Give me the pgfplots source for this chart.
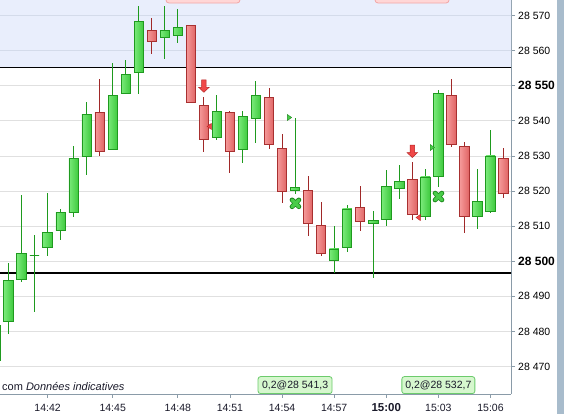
\documentclass[border=0pt]{standalone}
\usepackage{fontspec}
\setmainfont{Liberation Sans}
\usepackage{pgfplots}
\pgfplotsset{compat=1.18}

\definecolor{gfillL}{HTML}{7AEA7A}
\definecolor{gfillR}{HTML}{3ECA3E}
\definecolor{gborder}{HTML}{1F9A1F}
\definecolor{gwick}{HTML}{1E9A1E}
\definecolor{rfillL}{HTML}{F59A9A}
\definecolor{rfillR}{HTML}{E06464}
\definecolor{rborder}{HTML}{A83030}
\definecolor{rwick}{HTML}{A02828}
\definecolor{bluebg}{HTML}{E9EEFC}
\definecolor{bluegrid}{HTML}{D4DBEA}
\definecolor{gridgray}{HTML}{E0E0E0}
\definecolor{axisgray}{HTML}{8A9BA8}
\definecolor{rightbar}{HTML}{A8BCCC}
\definecolor{labeltext}{HTML}{1A1A2A}
\definecolor{pinkf}{HTML}{FFD6D6}
\definecolor{pinkb}{HTML}{F2A6A6}
\definecolor{boxf}{HTML}{D6F7CE}
\definecolor{boxb}{HTML}{6CCB6C}
\definecolor{arrowf}{HTML}{F04848}
\definecolor{arrowb}{HTML}{B82424}
\definecolor{xdark}{HTML}{1E8A1E}
\definecolor{xlight}{HTML}{48CC48}

\newcommand\tf{\fontsize{10.5bp}{12bp}\selectfont}
\newcommand\tfb{\fontsize{12bp}{12bp}\selectfont\bfseries}

\pgfdeclareplotmark{darrow}{%
  \pgfpathmoveto{\pgfqpoint{-2.3bp}{6.1bp}}%
  \pgfpathlineto{\pgfqpoint{2.3bp}{6.1bp}}%
  \pgfpathlineto{\pgfqpoint{2.3bp}{-1.2bp}}%
  \pgfpathlineto{\pgfqpoint{5.3bp}{-1.2bp}}%
  \pgfpathlineto{\pgfqpoint{0bp}{-6.2bp}}%
  \pgfpathlineto{\pgfqpoint{-5.3bp}{-1.2bp}}%
  \pgfpathlineto{\pgfqpoint{-2.3bp}{-1.2bp}}%
  \pgfpathclose\pgfusepathqfillstroke}
\pgfdeclareplotmark{ltri}{%
  \pgfpathmoveto{\pgfqpoint{-2.3bp}{0bp}}%
  \pgfpathlineto{\pgfqpoint{2bp}{3bp}}%
  \pgfpathlineto{\pgfqpoint{2bp}{-3bp}}%
  \pgfpathclose\pgfusepathqfillstroke}
\pgfdeclareplotmark{rtri}{%
  \pgfpathmoveto{\pgfqpoint{2.3bp}{0bp}}%
  \pgfpathlineto{\pgfqpoint{-2bp}{3bp}}%
  \pgfpathlineto{\pgfqpoint{-2bp}{-3bp}}%
  \pgfpathclose\pgfusepathqfillstroke}
\pgfdeclareplotmark{bigx}{%
  \pgfsetroundcap
  \pgfsetlinewidth{4.8bp}\pgfsetstrokecolor{xdark}%
  \pgfpathmoveto{\pgfqpoint{-3.4bp}{-3.4bp}}\pgfpathlineto{\pgfqpoint{3.4bp}{3.4bp}}%
  \pgfpathmoveto{\pgfqpoint{-3.4bp}{3.4bp}}\pgfpathlineto{\pgfqpoint{3.4bp}{-3.4bp}}%
  \pgfusepathqstroke
  \pgfsetlinewidth{3.2bp}\pgfsetstrokecolor{xlight}%
  \pgfpathmoveto{\pgfqpoint{-3.4bp}{-3.4bp}}\pgfpathlineto{\pgfqpoint{3.4bp}{3.4bp}}%
  \pgfpathmoveto{\pgfqpoint{-3.4bp}{3.4bp}}\pgfpathlineto{\pgfqpoint{3.4bp}{-3.4bp}}%
  \pgfusepathqstroke}

\pgfplotsset{
  gbody/.style={draw=gborder, line width=0.8bp, fill=gfillR, left color=gfillL, right color=gfillR},
  rbody/.style={draw=rborder, line width=0.8bp, fill=rfillR, left color=rfillL, right color=rfillR},
  gwk/.style={draw=gwick, line width=1bp, mark=none},
  rwk/.style={draw=rwick, line width=1bp, mark=none},
}
% \G{index}{open}{high}{low}{close}
\newcommand\candle[6]{%
  \addplot[#6wk] coordinates {(#1,#4) (#1,#3)};%
  \pgfmathsetmacro\xl{#1-0.36}\pgfmathsetmacro\xr{#1+0.36}%
  \edef\tmp{\noexpand\addplot[#6body] coordinates {(\xl,#2) (\xr,#2) (\xr,#5) (\xl,#5)} -- cycle;}\tmp}
\newcommand\G[5]{\candle{#1}{#2}{#3}{#4}{#5}{g}}
\newcommand\R[5]{\candle{#1}{#2}{#3}{#4}{#5}{r}}

\begin{document}
\begin{tikzpicture}
\useasboundingbox (0,0) rectangle (564bp,414bp);
\fill[white] (0,0) rectangle (564bp,414bp);
\fill[rightbar] (557bp,0) rectangle (564bp,414bp);
\begin{axis}[
  at={(0bp,20bp)}, anchor=south west,
  scale only axis, width=511bp, height=394bp,
  xmin=-0.6525, xmax=38.577, ymin=28462.17, ymax=28574.42,
  axis x line*=bottom, axis y line*=right,
  axis line style={draw=axisgray, line width=0.8bp},
  tick align=outside, major tick length=4bp,
  tick style={draw=axisgray, line width=0.8bp},
  xtick={3,8,13,17,21,25,29,33,37},
  xticklabels={14:42,14:45,14:48,14:51,14:54,14:57,{\fontsize{11.5bp}{12bp}\selectfont\bfseries 15:00},15:03,15:06},
  ytick={28470,28480,28490,28500,28510,28520,28530,28540,28550,28560,28570},
  yticklabels={28 470,28 480,28 490,{\tfb 28 500},28 510,28 520,28 530,28 540,{\tfb 28 550},28 560,28 570},
  xticklabel style={font=\tf, text=labeltext, anchor=base, inner sep=0pt, yshift=-13.2bp},
  yticklabel style={font=\tf, text=black, anchor=west, inner sep=0pt, xshift=3bp},
  ymajorgrids, grid style={draw=gridgray, line width=0.8bp},
  clip=true,
]
% upper shaded zone
\addplot[fill=bluebg, draw=none] coordinates {(-1,28555.1) (40,28555.1) (40,28580) (-1,28580)} -- cycle;
\addplot[bluegrid, line width=0.8bp] coordinates {(-1,28560) (40,28560)};
\addplot[bluegrid, line width=0.8bp] coordinates {(-1,28570) (40,28570)};
% level lines
\addplot[black, line width=1bp] coordinates {(-1,28555.1) (40,28555.1)};
\addplot[black, line width=1.8bp] coordinates {(-1,28496.6) (40,28496.6)};
% small triangles (behind candles)
\addplot[only marks, mark=ltri, mark options={fill=arrowf, draw=arrowb, line width=0.4bp}] coordinates {(15.42,28538.4) (31.46,28512.45)};
\addplot[only marks, mark=rtri, mark options={fill=xlight, draw=xdark, line width=0.4bp}] coordinates {(21.56,28540.94) (32.53,28532.39)};
% candles
\G{-1}{28471.6}{28481.8}{28471.6}{28481.8}
\G{0}{28482.9}{28499.5}{28479.3}{28494.4}
\G{1}{28494.8}{28518.9}{28494.2}{28502.3}
\G{2}{28501.7}{28507.5}{28485.6}{28501.7}
\G{3}{28504.0}{28519.4}{28501.6}{28508.2}
\G{4}{28508.8}{28514.8}{28506.1}{28513.9}
\G{5}{28513.9}{28532.8}{28512.7}{28529.3}
\G{6}{28529.9}{28545.4}{28524.6}{28541.9}
\R{7}{28542.4}{28551.9}{28530.1}{28531.3}
\G{8}{28531.9}{28556.5}{28531.9}{28547.3}
\G{9}{28547.8}{28557.3}{28547.8}{28553.2}
\G{10}{28553.8}{28572.7}{28547.7}{28568.3}
\R{11}{28565.8}{28569.3}{28559.1}{28562.6}
\G{12}{28563.8}{28572.7}{28557.7}{28565.8}
\G{13}{28564.4}{28571.9}{28562.3}{28566.6}
\R{14}{28567.2}{28567.2}{28545.3}{28545.3}
\R{15}{28544.4}{28546.8}{28531.2}{28534.7}
\G{16}{28535.3}{28547.4}{28534.6}{28542.7}
\R{17}{28542.4}{28542.8}{28525.2}{28531.3}
\G{18}{28531.9}{28542.8}{28528.1}{28541.3}
\G{19}{28540.7}{28551.3}{28533.8}{28547.3}
\R{20}{28546.7}{28549.3}{28532.0}{28533.3}
\R{21}{28532.2}{28536.2}{28516.7}{28519.8}
\G{22}{28520.1}{28540.8}{28519.2}{28520.9}
\R{23}{28520.2}{28524.3}{28507.3}{28510.8}
\R{24}{28510.2}{28516.9}{28501.6}{28502.1}
\G{25}{28500.1}{28510.0}{28496.6}{28503.5}
\G{26}{28503.8}{28516.0}{28502.7}{28514.9}
\R{27}{28515.4}{28521.4}{28508.7}{28511.3}
\G{28}{28510.8}{28514.3}{28495.3}{28511.5}
\G{29}{28511.8}{28526.0}{28510.1}{28521.3}
\G{30}{28520.7}{28527.4}{28517.8}{28522.8}
\R{31}{28523.4}{28528.3}{28511.7}{28513.2}
\G{32}{28512.7}{28526.3}{28511.7}{28524.0}
\G{33}{28524.1}{28548.9}{28521.2}{28547.8}
\R{34}{28547.3}{28551.9}{28532.6}{28533.3}
\R{35}{28532.8}{28534.0}{28508.1}{28512.7}
\G{36}{28512.7}{28526.3}{28509.3}{28516.9}
\G{37}{28514.1}{28537.5}{28513.8}{28530.0}
\R{38}{28529.4}{28532.3}{28518.1}{28519.3}
% signals
\addplot[only marks, mark=darrow, mark options={fill=arrowf, draw=arrowb, line width=0.5bp}] coordinates {(15,28549.9) (31,28531.3)};
\addplot[only marks, mark=bigx] coordinates {(22.03,28516.5) (33.01,28518.43)};
% top tooltip boxes (cut by the frame)
\draw[draw=pinkb, fill=pinkf, line width=0.8bp, rounded corners=3bp] (axis cs:12.09,28573.56) rectangle (axis cs:17.77,28590);
\draw[draw=pinkb, fill=pinkf, line width=0.8bp, rounded corners=3bp] (axis cs:28.14,28573.56) rectangle (axis cs:33.82,28590);
% bottom labels
\node[draw=boxb, fill=boxf, line width=0.8bp, rounded corners=2.5bp, minimum width=74bp, minimum height=17bp, anchor=south, inner sep=0pt, font=\tf, text=labeltext] at (axis cs:22,28462.17) {0,2@28 541,3};
\node[draw=boxb, fill=boxf, line width=0.8bp, rounded corners=2.5bp, minimum width=73bp, minimum height=17bp, anchor=south, inner sep=0pt, font=\tf, text=labeltext] at (axis cs:33,28462.17) {0,2@28 532,7};
\node[anchor=base west, inner sep=0pt, xshift=2bp, yshift=4bp, font=\fontsize{11bp}{12bp}\selectfont, text=labeltext] at (axis cs:-0.6525,28462.17) {com \textit{Données indicatives}};
\end{axis}
\end{tikzpicture}
\end{document}
